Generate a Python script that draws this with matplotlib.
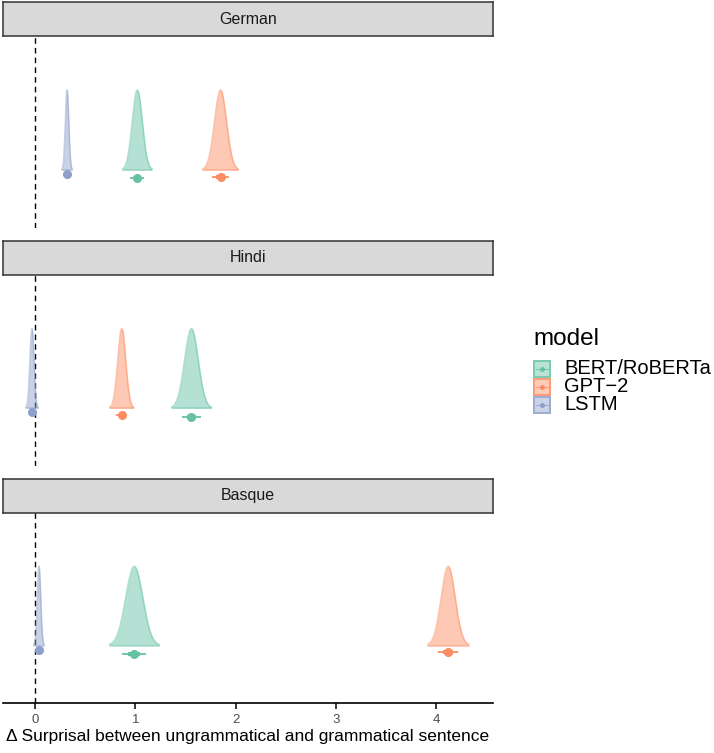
import numpy as np
import matplotlib
matplotlib.use("Agg")
import matplotlib.pyplot as plt
from matplotlib.patches import Rectangle
from matplotlib.lines import Line2D

plt.rcParams['font.family'] = ['Liberation Sans', 'DejaVu Sans']

# ---- data ----
languages = ["German", "Hindi", "Basque"]
models = ["BERT/RoBERTa", "GPT-2", "LSTM"]
colors = {"BERT/RoBERTa": "#66c2a5", "GPT-2": "#fc8d62", "LSTM": "#8da0cb"}

# posterior location (mean) per language, model order as in `models`
german_mean = [1.02, 1.85, 0.32]
hindi_mean = [1.56, 0.865, -0.03]
basque_mean = [0.99, 4.12, 0.04]
# posterior spread (sd)
german_sd = [0.050, 0.060, 0.017]
hindi_sd = [0.068, 0.040, 0.020]
basque_sd = [0.085, 0.070, 0.017]

means = {"German": german_mean, "Hindi": hindi_mean, "Basque": basque_mean}
sds = {"German": german_sd, "Hindi": hindi_sd, "Basque": basque_sd}

# vertical offset of point-interval below slab (per model)
interval_offset = [-0.105, -0.085, -0.05]

xticks = [0, 1, 2, 3, 4]
xlabel = "Δ Surprisal between ungrammatical and grammatical sentence"

# ---- figure ----
W, H = 714, 753
fig = plt.figure(figsize=(W / 100, H / 100), dpi=100)

x_left_px, x_right_px = 3, 493
zero_px, unit_px = 35, 100.3
xlim = ((x_left_px - zero_px) / unit_px, (x_right_px - zero_px) / unit_px)

panels = [(36, 228, 2), (275, 466, 241), (513, 703, 479)]  # panel top, bottom, strip top

for li, lang in enumerate(languages):
    top, bot, stop = panels[li]
    ax = fig.add_axes([x_left_px / W, 1 - bot / H, (x_right_px - x_left_px) / W, (bot - top) / H])
    ax.set_xlim(*xlim)
    ax.set_ylim(-0.725, 1.675)
    for s in ["top", "right", "left"]:
        ax.spines[s].set_visible(False)
    ax.set_yticks([])
    ax.axvline(0, color="black", lw=1.0, ls=(0, (4, 3)), zorder=1)

    for mi, m in enumerate(models):
        mu = means[lang][mi]
        sd = sds[lang][mi]
        c = colors[m]
        xs = np.linspace(mu - 2.9 * sd, mu + 2.9 * sd, 300)
        dens = np.exp(-0.5 * ((xs - mu) / sd) ** 2)
        dens = dens / dens.max()
        ax.fill_between(xs, 0, dens, color=c, alpha=0.48, lw=0, zorder=2)
        ax.plot(xs, dens, color=c, alpha=0.5, lw=1.2, zorder=3)
        ax.plot([xs[0], xs[-1]], [0, 0], color=c, alpha=0.45, lw=1.2, zorder=3)
        yoff = interval_offset[mi]
        ax.plot([mu - 1.4 * sd, mu + 1.4 * sd], [yoff, yoff], color=c, lw=1.3, solid_capstyle="butt", zorder=4)
        ax.plot([mu - 0.7 * sd, mu + 0.7 * sd], [yoff, yoff], color=c, lw=3.0, solid_capstyle="butt", zorder=4)
        ax.plot([mu], [yoff], "o", color=c, ms=5.5, mec=c, zorder=5)

    if li < 2:
        ax.spines["bottom"].set_visible(False)
        ax.set_xticks([])
    else:
        ax.spines["bottom"].set_linewidth(1.2)
        ax.set_xticks(xticks)
        ax.set_xticklabels([str(t) for t in xticks])
        ax.tick_params(axis="x", length=4, width=1.1, color="black", labelsize=9.5, labelcolor="#4d4d4d", pad=4)
        ax.set_xlabel(xlabel, fontsize=12.5, labelpad=2)

    # strip
    sax = fig.add_axes([x_left_px / W, 1 - top / H, (x_right_px - x_left_px) / W, (top - stop) / H])
    sax.set_xticks([]); sax.set_yticks([])
    sax.set_facecolor("#d9d9d9")
    for s in sax.spines.values():
        s.set_linewidth(1.1)
        s.set_color("#333333")
    sax.text(0.5, 0.5, lang, ha="center", va="center", fontsize=11.5, color="#1a1a1a", transform=sax.transAxes)

# legend (drawn manually)
fig.text(533 / W, 1 - 345 / H, "model", fontsize=17.5, ha="left", va="baseline")
key_x, key_w, key_h = 533, 18, 18
key_tops = [360, 378, 396]
for mi, m in enumerate(models):
    c = colors[m]
    kt = key_tops[mi]
    rect = Rectangle((key_x / W, 1 - (kt + key_h) / H), key_w / W, key_h / H,
                     transform=fig.transFigure, facecolor=c, alpha=0.45, edgecolor="none")
    fig.add_artist(rect)
    rect2 = Rectangle(((key_x + 0.7) / W, 1 - (kt + key_h - 0.7) / H), (key_w - 1.4) / W, (key_h - 1.4) / H,
                      transform=fig.transFigure, facecolor="none", edgecolor=c, lw=1.4, alpha=0.75)
    fig.add_artist(rect2)
    yc = 1 - (kt + key_h / 2) / H
    fig.add_artist(Line2D([(key_x + 3) / W, (key_x + key_w - 3) / W], [yc, yc], transform=fig.transFigure, color=c, lw=0.7, alpha=0.8))
    fig.add_artist(Line2D([(key_x + key_w / 2) / W], [yc], transform=fig.transFigure, marker="o", ms=2.5, color=c))
    fig.text(564 / W, yc, m.replace("-", "−"), fontsize=14.5, ha="left", va="center")

fig.savefig("out.png", dpi=100)
